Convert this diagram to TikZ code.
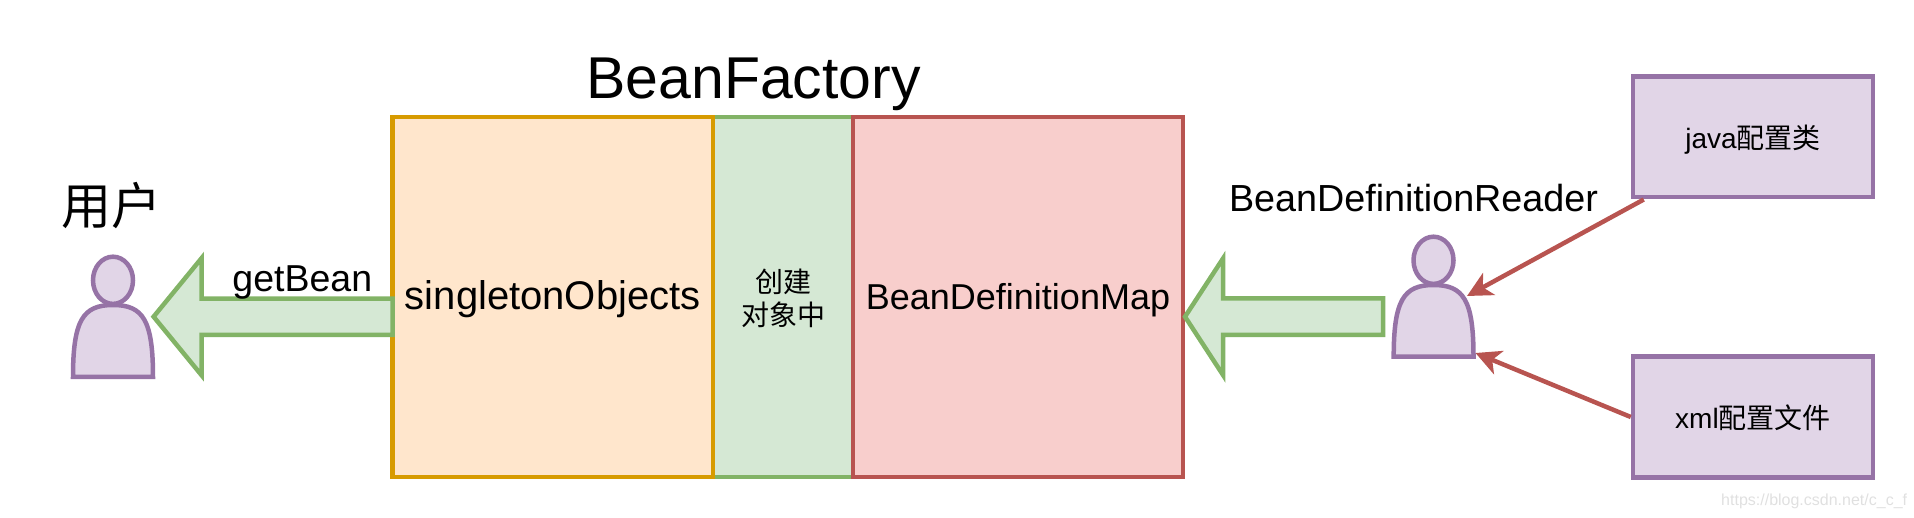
\documentclass[tikz,border=0pt]{standalone}
\usepackage{fontspec}
\setmainfont{Liberation Sans}
\newfontfamily\cjk{Noto Sans CJK SC}
\usetikzlibrary{arrows.meta,calc}
\definecolor{purpleF}{HTML}{E1D5E7}
\definecolor{purpleD}{HTML}{9673A6}
\definecolor{greenF}{HTML}{D5E8D4}
\definecolor{greenD}{HTML}{82B366}
\definecolor{orangeF}{HTML}{FFE6CC}
\definecolor{orangeD}{HTML}{D79B00}
\definecolor{redF}{HTML}{F8CECC}
\definecolor{redD}{HTML}{B85450}
\newcommand{\fs}[1]{\fontsize{#1}{#1}\selectfont}
\tikzset{
  panel/.style={draw,line width=4.5pt,inner sep=0pt,outer sep=0pt,text height=33pt,text depth=7pt},
  src/.style={draw=purpleD,fill=purpleF,line width=4.5pt,inner sep=0pt,minimum width=240pt,minimum height=120.5pt,text height=28.5pt,text depth=5.5pt,font=\fs{28}},
  txt/.style={inner sep=0pt,anchor=base,text=black},
  actor/.style={draw=purpleD,fill=purpleF,line width=4.5pt},
  blockarrow/.style={draw=greenD,fill=greenF,line width=4.5pt,line join=miter},
  feed/.style={draw=redD,line width=4.5pt,-{Stealth[length=25pt,width=25pt,inset=7pt]}}
}
\begin{document}
\begin{tikzpicture}[x=1pt,y=-1pt]
\path[use as bounding box] (0,0) rectangle (1914,518);
% BeanFactory panels
\node[panel,draw=greenD,fill=greenF,minimum width=140pt,minimum height=360pt,align=center,font={\fontsize{28}{32.5}\selectfont\cjk},text height=62pt,text depth=5pt] (creating) at (783,297) {创建\\对象中};
\node[panel,draw=orangeD,fill=orangeF,minimum width=320.5pt,minimum height=360pt,font=\fs{40}] (singleton) at (552.75,297) {singletonObjects};
\node[panel,draw=redD,fill=redF,minimum width=330pt,minimum height=360pt,font=\fs{36}] (defmap) at (1018,297) {BeanDefinitionMap};
\node[txt,font=\fs{59}] (factory) at (753.5,99) {BeanFactory};
% left actor
\node[txt,font=\fs{50}\cjk,anchor=center] (user) at (111,206) {用户};
\coordinate (userTip) at (153.6,316.7);
\draw[actor] (73,377) .. controls (73,320) and (83,305) .. (113,305) .. controls (143,305) and (153,320) .. (153,377) -- cycle;
\draw[actor] (113,280.3) ellipse [x radius=20pt,y radius=23.6pt];
% right actor
\node[txt,font=\fs{37.7}] (reader) at (1413.5,211.7) {BeanDefinitionReader};
\coordinate (readerTipA) at (1467,296);
\coordinate (readerTipB) at (1475.5,353);
\draw[actor] (1393.7,356.7) .. controls (1393.7,300) and (1403.7,285) .. (1433.5,285) .. controls (1463.5,285) and (1473.5,300) .. (1473.5,356.7) -- cycle;
\draw[actor] (1433.5,260.3) ellipse [x radius=20pt,y radius=23.6pt];
% block arrows
\draw[blockarrow] (singleton.west |- 0,298.7) -- (201.7,298.7) -- (201.7,258) -- (userTip) -- (201.7,375.4) -- (201.7,335) -- (singleton.west |- 0,335) -- cycle;
\node[txt,font=\fs{37.5}] (getbean) at (302.3,291.7) {getBean};
\draw[blockarrow] (1383,298.5) -- (1223,298.5) -- (1223,258.5) -- ([xshift=2pt]defmap.east |- 0,316.7) -- (1223,375) -- (1223,335) -- (1383,335) -- cycle;
% sources
\node[src] (java) at (1753,137) {java{\cjk 配置类}};
\node[src] (xml) at (1753,417) {xml{\cjk 配置文件}};
\draw[feed] ([xshift=13pt]java.south west) -- (readerTipA);
\draw[feed] (xml.west) -- (readerTipB);
% watermark
\node[txt,font=\fs{16},text=black!12,anchor=base west] (mark) at (1721,505) {https://blog.csdn.net/c\_c\_f};
\end{tikzpicture}
\end{document}
